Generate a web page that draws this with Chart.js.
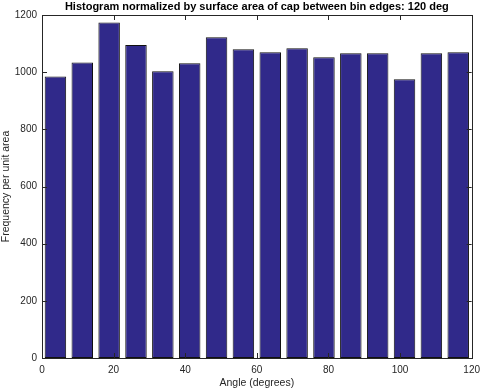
<!DOCTYPE html>
<html>
<head>
<meta charset="utf-8">
<script src="https://cdn.jsdelivr.net/npm/chart.js@4"></script>
<style>
html,body{margin:0;padding:0;background:#fff;}
#wrap{width:486px;height:391px;}
</style>
</head>
<body>
<div id="wrap"><canvas id="c" width="486" height="391"></canvas></div>
<script>
// bins of 7.5 deg from 0 to 120
const binCenters=[3.75,11.25,18.75,26.25,33.75,41.25,48.75,56.25,63.75,71.25,78.75,86.25,93.75,101.25,108.75,116.25];
const freqPerArea=[985,1034,1174,1095,1003,1031,1122,1080,1070,1084,1052,1066,1066,975,1066,1070];
const titleText='Histogram normalized by surface area of cap between bin edges: 120 deg';
const xLabel='Angle (degrees)';
const yLabel='Frequency per unit area';

const FONT='"Liberation Sans", Arial, sans-serif';
const TXT='#262626';

// matlab style box + inward ticks on all four sides, title centred over axes
const boxPlugin={
    id:'box',
    afterDraw(chart){
        const ctx=chart.ctx,a=chart.chartArea,xs=chart.scales.x,ys=chart.scales.y,L=5;
        ctx.save();
        ctx.strokeStyle='#262626';ctx.lineWidth=1;
        ctx.beginPath();
        xs.ticks.forEach(t=>{
            const px=Math.round(xs.getPixelForValue(t.value))+0.5;
            ctx.moveTo(px,a.bottom);ctx.lineTo(px,a.bottom-L);
            ctx.moveTo(px,a.top);ctx.lineTo(px,a.top+L);
        });
        ys.ticks.forEach(t=>{
            const py=Math.round(ys.getPixelForValue(t.value))+0.5;
            ctx.moveTo(a.left,py);ctx.lineTo(a.left+L,py);
            ctx.moveTo(a.right,py);ctx.lineTo(a.right-L,py);
        });
        ctx.stroke();
        ctx.strokeRect(Math.round(a.left)+0.5,Math.round(a.top)+0.5,Math.round(a.right-a.left),Math.round(a.bottom-a.top));
        ctx.fillStyle='#000';
        ctx.font='bold 11px '+FONT;
        ctx.textAlign='center';ctx.textBaseline='middle';
        ctx.fillText(titleText,(a.left+a.right)/2,a.top-8);
        ctx.restore();
    }
};

new Chart(document.getElementById('c'),{
    type:'bar',
    data:{datasets:[{
        label:'freq',
        data:binCenters.map((x,i)=>({x:x,y:freqPerArea[i]})),
        backgroundColor:'#30298a',
        borderColor:'#111',
        borderWidth:1,
        borderSkipped:false,
        categoryPercentage:1,
        barPercentage:0.8
    }]},
    options:{
        responsive:false,animation:false,
        layout:{padding:{left:0,right:10,top:15,bottom:0}},
        plugins:{legend:{display:false},tooltip:{enabled:false},title:{display:false}},
        scales:{
            x:{type:'linear',min:0,max:120,offset:false,
                grid:{display:false,drawTicks:false},border:{display:false},
                ticks:{stepSize:20,color:TXT,font:{family:FONT,size:10},padding:6,maxRotation:0,callback:v=>String(v)},
                title:{display:true,text:xLabel,color:TXT,font:{family:FONT,size:10.5},padding:{top:1,bottom:2}},
                afterFit(s){s.height=33;}
            },
            y:{min:0,max:1200,
                grid:{display:false,drawTicks:false},border:{display:false},
                ticks:{stepSize:200,color:TXT,font:{family:FONT,size:10},padding:5,callback:v=>String(v)},
                title:{display:true,text:yLabel,color:TXT,font:{family:FONT,size:10.5},padding:{top:0,bottom:2}},
                afterFit(s){s.width=42;}
            }
        }
    },
    plugins:[boxPlugin]
});
</script>
</body>
</html>
